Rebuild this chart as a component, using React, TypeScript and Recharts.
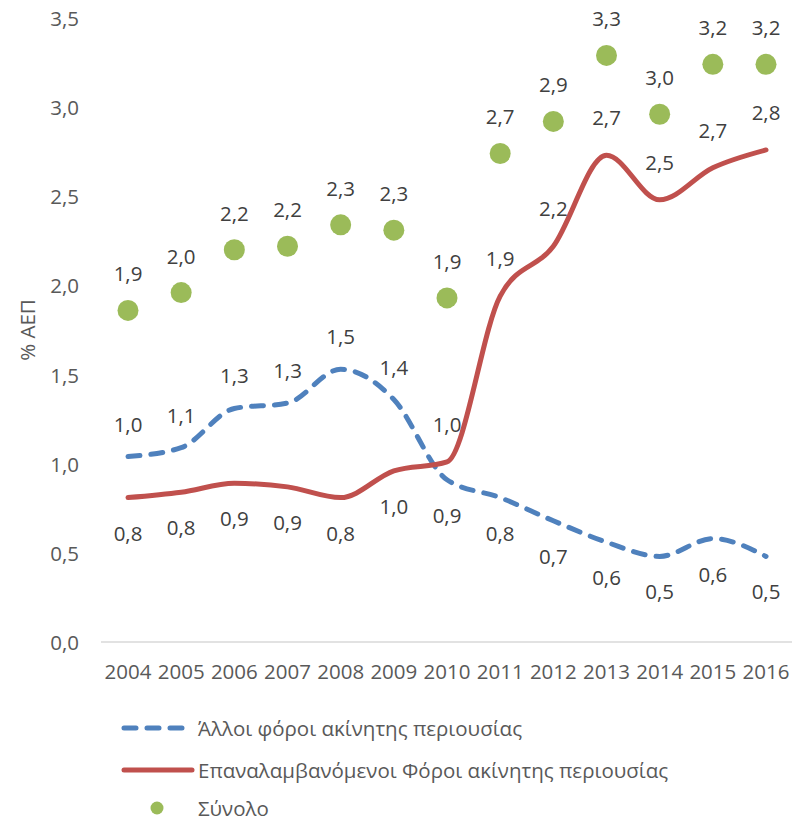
import React from "react";
import { LineChart, Line, XAxis, YAxis, Legend, LabelList, Label } from "recharts";

const years = ["2004", "2005", "2006", "2007", "2008", "2009", "2010", "2011", "2012", "2013", "2014", "2015", "2016"];
const otherTaxes = [1.04, 1.09, 1.31, 1.34, 1.53, 1.36, 0.91, 0.81, 0.68, 0.56, 0.48, 0.58, 0.48];
const recurrentTaxes = [0.81, 0.84, 0.89, 0.87, 0.81, 0.96, 1.01, 1.94, 2.22, 2.73, 2.48, 2.66, 2.76];
const totalTaxes = [1.86, 1.96, 2.2, 2.22, 2.34, 2.31, 1.93, 2.74, 2.92, 3.29, 2.96, 3.24, 3.24];
const yTicks = [0, 0.5, 1, 1.5, 2, 2.5, 3, 3.5];

const seriesNames = {
  other: "Άλλοι φόροι ακίνητης περιουσίας",
  recurrent: "Επαναλαμβανόμενοι Φόροι ακίνητης περιουσίας",
  total: "Σύνολο",
};

const data = years.map((y, i) => ({
  year: y,
  other: otherTaxes[i],
  recurrent: recurrentTaxes[i],
  total: totalTaxes[i],
}));

const FONT = "'Open Sans', sans-serif";
const FS = 20.5;
const BLUE = "#4F81BD";
const RED = "#C0504D";
const GREEN = "#9BBB59";

const fmt = (v: number) => v.toFixed(1).replace(".", ",");

// which labels go above the line: other above until 2009, recurrent above from 2010
const makeLabel = (isAbove: (i: number) => boolean, up: number, down: number) => (props: any) => {
  const { x, y, value, index } = props;
  const above = isAbove(index);
  return (
    <text
      x={x}
      y={above ? y - up : y + down}
      textAnchor="middle"
      dominantBaseline="central"
      fontFamily={FONT}
      fontSize={FS}
      fill="#404040"
    >
      {fmt(value)}
    </text>
  );
};

const XTick = (props: any) => (
  <text x={props.x} y={671} textAnchor="middle" dominantBaseline="central" fontFamily={FONT} fontSize={FS} fill="#595959">
    {props.payload.value}
  </text>
);

const YTick = (props: any) => (
  <text x={79} y={props.y} textAnchor="end" dominantBaseline="central" fontFamily={FONT} fontSize={FS} fill="#595959">
    {fmt(props.payload.value)}
  </text>
);

// legend rows, centres measured from the top of the legend box
const LegendBox = () => {
  const row = (top: number): React.CSSProperties => ({ position: "absolute", left: 0, top: top - 14, height: 28, width: 700 });
  const txt: React.CSSProperties = { position: "absolute", left: 198, top: 0, fontFamily: FONT, fontSize: FS, lineHeight: "28px", color: "#595959", whiteSpace: "nowrap" };
  return (
    <div style={{ height: 123, position: "relative" }}>
      <div style={row(28)}>
        <svg width={200} height={28} style={{ position: "absolute", left: 0 }}>
          <line x1={124} y1={14} x2={186} y2={14} stroke={BLUE} strokeWidth={5} strokeDasharray="12 11" strokeLinecap="round" />
        </svg>
        <span style={txt}>{seriesNames.other}</span>
      </div>
      <div style={row(70)}>
        <svg width={200} height={28} style={{ position: "absolute", left: 0 }}>
          <line x1={124} y1={14} x2={192} y2={14} stroke={RED} strokeWidth={5} strokeLinecap="round" />
        </svg>
        <span style={txt}>{seriesNames.recurrent}</span>
      </div>
      <div style={row(108)}>
        <svg width={200} height={28} style={{ position: "absolute", left: 0 }}>
          <circle cx={157} cy={14} r={6.5} fill={GREEN} />
        </svg>
        <span style={txt}>{seriesNames.total}</span>
      </div>
    </div>
  );
};

export default function App() {
  return (
    <div style={{ position: "absolute", left: 0, top: 0, background: "#fff" }}>
      <LineChart width={792} height={823} data={data} margin={{ top: 18, right: 0, bottom: 0, left: 0 }}>
        <XAxis
          dataKey="year"
          height={58}
          padding={{ left: 27, right: 26 }}
          tick={<XTick />}
          tickLine={false}
          axisLine={{ stroke: "#D9D9D9", strokeWidth: 1.5 }}
          interval={0}
        />
        <YAxis
          width={101}
          domain={[0, 3.5]}
          ticks={yTicks}
          tick={<YTick />}
          tickLine={false}
          axisLine={false}
        >
          <Label
            content={() => (
              <text
                x={27}
                y={330}
                transform="rotate(-90 27 330)"
                textAnchor="middle"
                dominantBaseline="central"
                fontFamily={FONT}
                fontSize={FS}
                fill="#595959"
              >
                % ΑΕΠ
              </text>
            )}
          />
        </YAxis>
        <Legend verticalAlign="bottom" content={<LegendBox />} />
        <Line
          type="monotone"
          dataKey="other"
          name={seriesNames.other}
          stroke={BLUE}
          strokeWidth={5}
          strokeDasharray="12 11"
          strokeLinecap="round"
          dot={false}
          isAnimationActive={false}
        >
          <LabelList dataKey="other" content={makeLabel((i) => i <= 5, 33, 35)} />
        </Line>
        <Line
          type="monotone"
          dataKey="recurrent"
          name={seriesNames.recurrent}
          stroke={RED}
          strokeWidth={5}
          strokeLinecap="round"
          dot={false}
          isAnimationActive={false}
        >
          <LabelList dataKey="recurrent" content={makeLabel((i) => i >= 6, 38, 35)} />
        </Line>
        <Line
          dataKey="total"
          name={seriesNames.total}
          stroke="none"
          strokeWidth={0}
          dot={{ r: 10.5, fill: GREEN, stroke: "none" }}
          activeDot={false}
          isAnimationActive={false}
        >
          <LabelList dataKey="total" content={makeLabel(() => true, 37, 0)} />
        </Line>
      </LineChart>
    </div>
  );
}
